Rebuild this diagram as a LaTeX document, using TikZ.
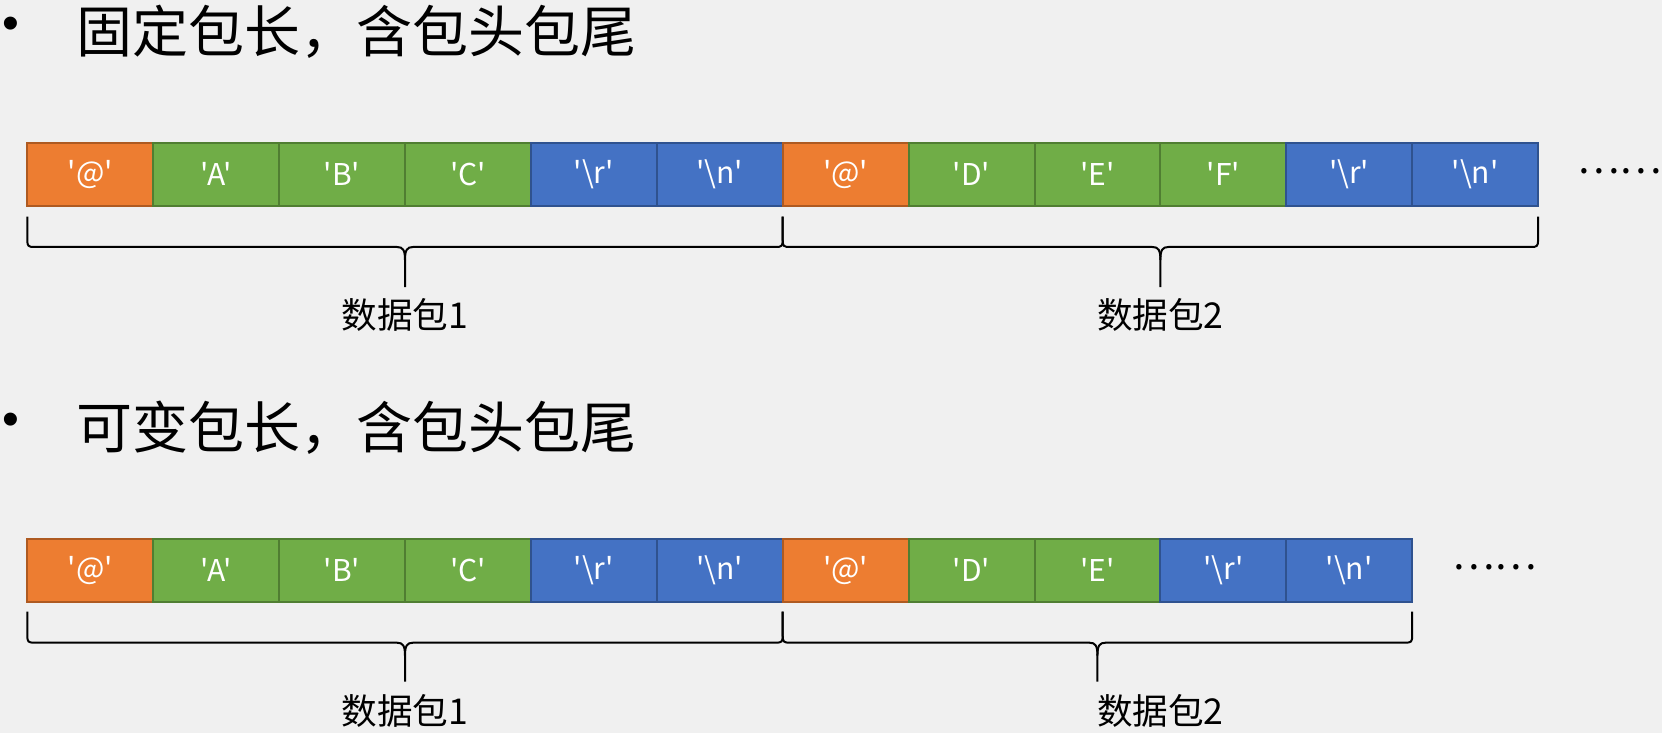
\documentclass[tikz,border=0pt]{standalone}
\usepackage{fontspec}
\newfontfamily\cjk{Noto Sans CJK SC}
\newfontfamily\lib{Liberation Sans}
\definecolor{bgc}{HTML}{F0F0F0}
\definecolor{orgF}{HTML}{ED7D31}
\definecolor{orgD}{HTML}{AE5A21}
\definecolor{grnF}{HTML}{70AD47}
\definecolor{grnD}{HTML}{507E32}
\definecolor{bluF}{HTML}{4472C4}
\definecolor{bluD}{HTML}{2F528F}
\newcommand\pbrace[5]{%
  \pgfmathsetmacro\xm{(#1+#2)/2}
  \draw[bracestyle] (#1,#3) -- (#1,#4-7) .. controls (#1,#4-1) and (#1+1,#4) .. (#1+7,#4) -- (\xm-8,#4) .. controls (\xm-2,#4) and (\xm,#4+3) .. (\xm,#4+13) -- (\xm,#5);
  \draw[bracestyle] (\xm,#4+13) .. controls (\xm,#4+3) and (\xm+2,#4) .. (\xm+8,#4) -- (#2-7,#4) .. controls (#2-1,#4) and (#2,#4-1) .. (#2,#4-7) -- (#2,#3);
}
\begin{document}
\begin{tikzpicture}[x=0.5pt,y=-0.5pt,
  cell/.style={minimum width=62.95pt, minimum height=31.75pt, inner sep=0pt, outer sep=0pt, line width=1pt, text=white, font=\cjk\fontsize{15}{17}\selectfont},
  org/.style={cell, fill=orgF, draw=orgD},
  grn/.style={cell, fill=grnF, draw=grnD},
  blu/.style={cell, fill=bluF, draw=bluD},
  bracestyle/.style={line width=1pt, draw=black},
  lbl/.style={font=\cjk\fontsize{17.8}{20}\selectfont, inner sep=0pt},
  titletext/.style={font=\cjk\fontsize{28}{32}\selectfont, anchor=west, inner sep=0pt},
  bul/.style={font=\lib\fontsize{24}{28}\selectfont, inner sep=0pt},
  dotstext/.style={font=\cjk\fontsize{20}{24}\selectfont, anchor=west, inner sep=0pt},
  ]
\fill[bgc] (0,0) rectangle (1662,733);
\useasboundingbox (0,0) rectangle (1662,733);

% titles
\node[bul] (bu1) at (11,28) {•};
\node[titletext] (t1) at (76,32) {固定包长，含包头包尾};
\node[bul] (bu2) at (11,424) {•};
\node[titletext] (t2) at (76,428) {可变包长，含包头包尾};

% row 1
\foreach \s/\t [count=\i] in {org/{'@'}, grn/{'A'}, grn/{'B'}, grn/{'C'}, blu/{'\textbackslash r'}, blu/{'\textbackslash n'}, org/{'@'}, grn/{'D'}, grn/{'E'}, grn/{'F'}, blu/{'\textbackslash r'}, blu/{'\textbackslash n'}}
  \node[\s] (a\i) at ({27.3+125.9*(\i-0.5)},174.4) {\t};
\node[dotstext] (d1) at (1577,171) {……};

% row 2
\foreach \s/\t [count=\i] in {org/{'@'}, grn/{'A'}, grn/{'B'}, grn/{'C'}, blu/{'\textbackslash r'}, blu/{'\textbackslash n'}, org/{'@'}, grn/{'D'}, grn/{'E'}, blu/{'\textbackslash r'}, blu/{'\textbackslash n'}}
  \node[\s] (b\i) at ({27.3+125.9*(\i-0.5)},570.3) {\t};
\node[dotstext] (d2) at (1452,567) {……};

% braces
\pbrace{27.3}{782.7}{216.7}{247}{287}
\pbrace{782.7}{1538.1}{216.7}{247}{287}
\pbrace{27.3}{782.7}{611.7}{642.7}{681.7}
\pbrace{782.7}{1412.2}{611.7}{642.7}{681.7}

% labels
\node[lbl] (l1) at (405,315) {数据包1};
\node[lbl] (l2) at (1160.4,315) {数据包2};
\node[lbl] (l3) at (405,711) {数据包1};
\node[lbl] (l4) at (1160.4,711) {数据包2};
\end{tikzpicture}
\end{document}
